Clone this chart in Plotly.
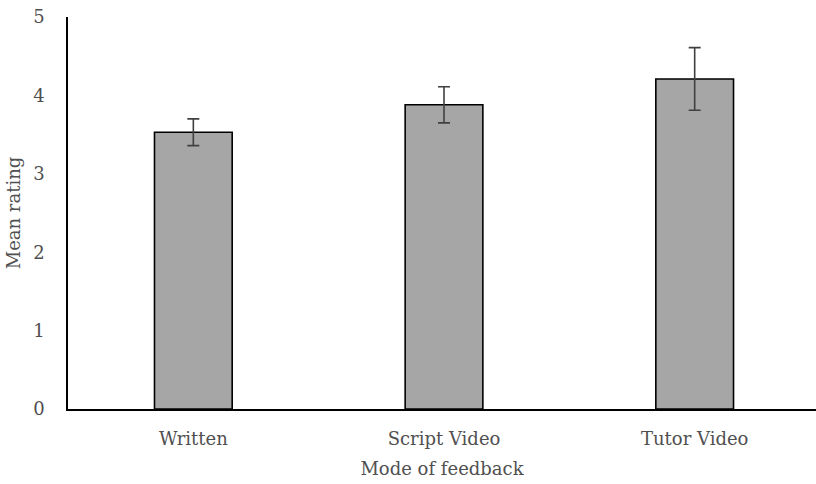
import plotly.graph_objects as go

categories = ["Written", "Script Video", "Tutor Video"]
mean_rating = [3.53, 3.88, 4.21]
error = [0.17, 0.23, 0.40]
y_ticks = [0, 1, 2, 3, 4, 5]

font_family = "DejaVu Serif"
text_color = "#505050"

fig = go.Figure()
fig.add_trace(go.Bar(
    x=categories,
    y=mean_rating,
    width=0.31,
    marker=dict(color="#a6a6a6", line=dict(color="#000000", width=1.6)),
    error_y=dict(type="data", array=error, visible=True, color="#404040",
                 thickness=1.6, width=6),
))

fig.update_layout(
    width=816, height=484,
    margin=dict(l=68, r=0, t=17, b=75),
    plot_bgcolor="white", paper_bgcolor="white",
    showlegend=False,
    font=dict(family=font_family, color=text_color, size=18),
)
fig.update_xaxes(
    range=[-0.5, 2.484],
    showline=True, linecolor="#000000", linewidth=1.6,
    showgrid=False, ticks="", ticklabelstandoff=13,
    tickfont=dict(size=18, family=font_family, color=text_color),
    title=dict(text="Mode of feedback", standoff=14,
               font=dict(size=18, family=font_family, color=text_color)),
)
fig.update_yaxes(
    range=[0, 5], tickvals=y_ticks,
    showline=True, linecolor="#000000", linewidth=1.6,
    showgrid=False, zeroline=False, ticks="", ticklabelstandoff=18,
    tickfont=dict(size=18, family=font_family, color=text_color),
    title=dict(text="Mean rating", standoff=8,
               font=dict(size=18, family=font_family, color=text_color)),
)

fig.write_html("out.html")
